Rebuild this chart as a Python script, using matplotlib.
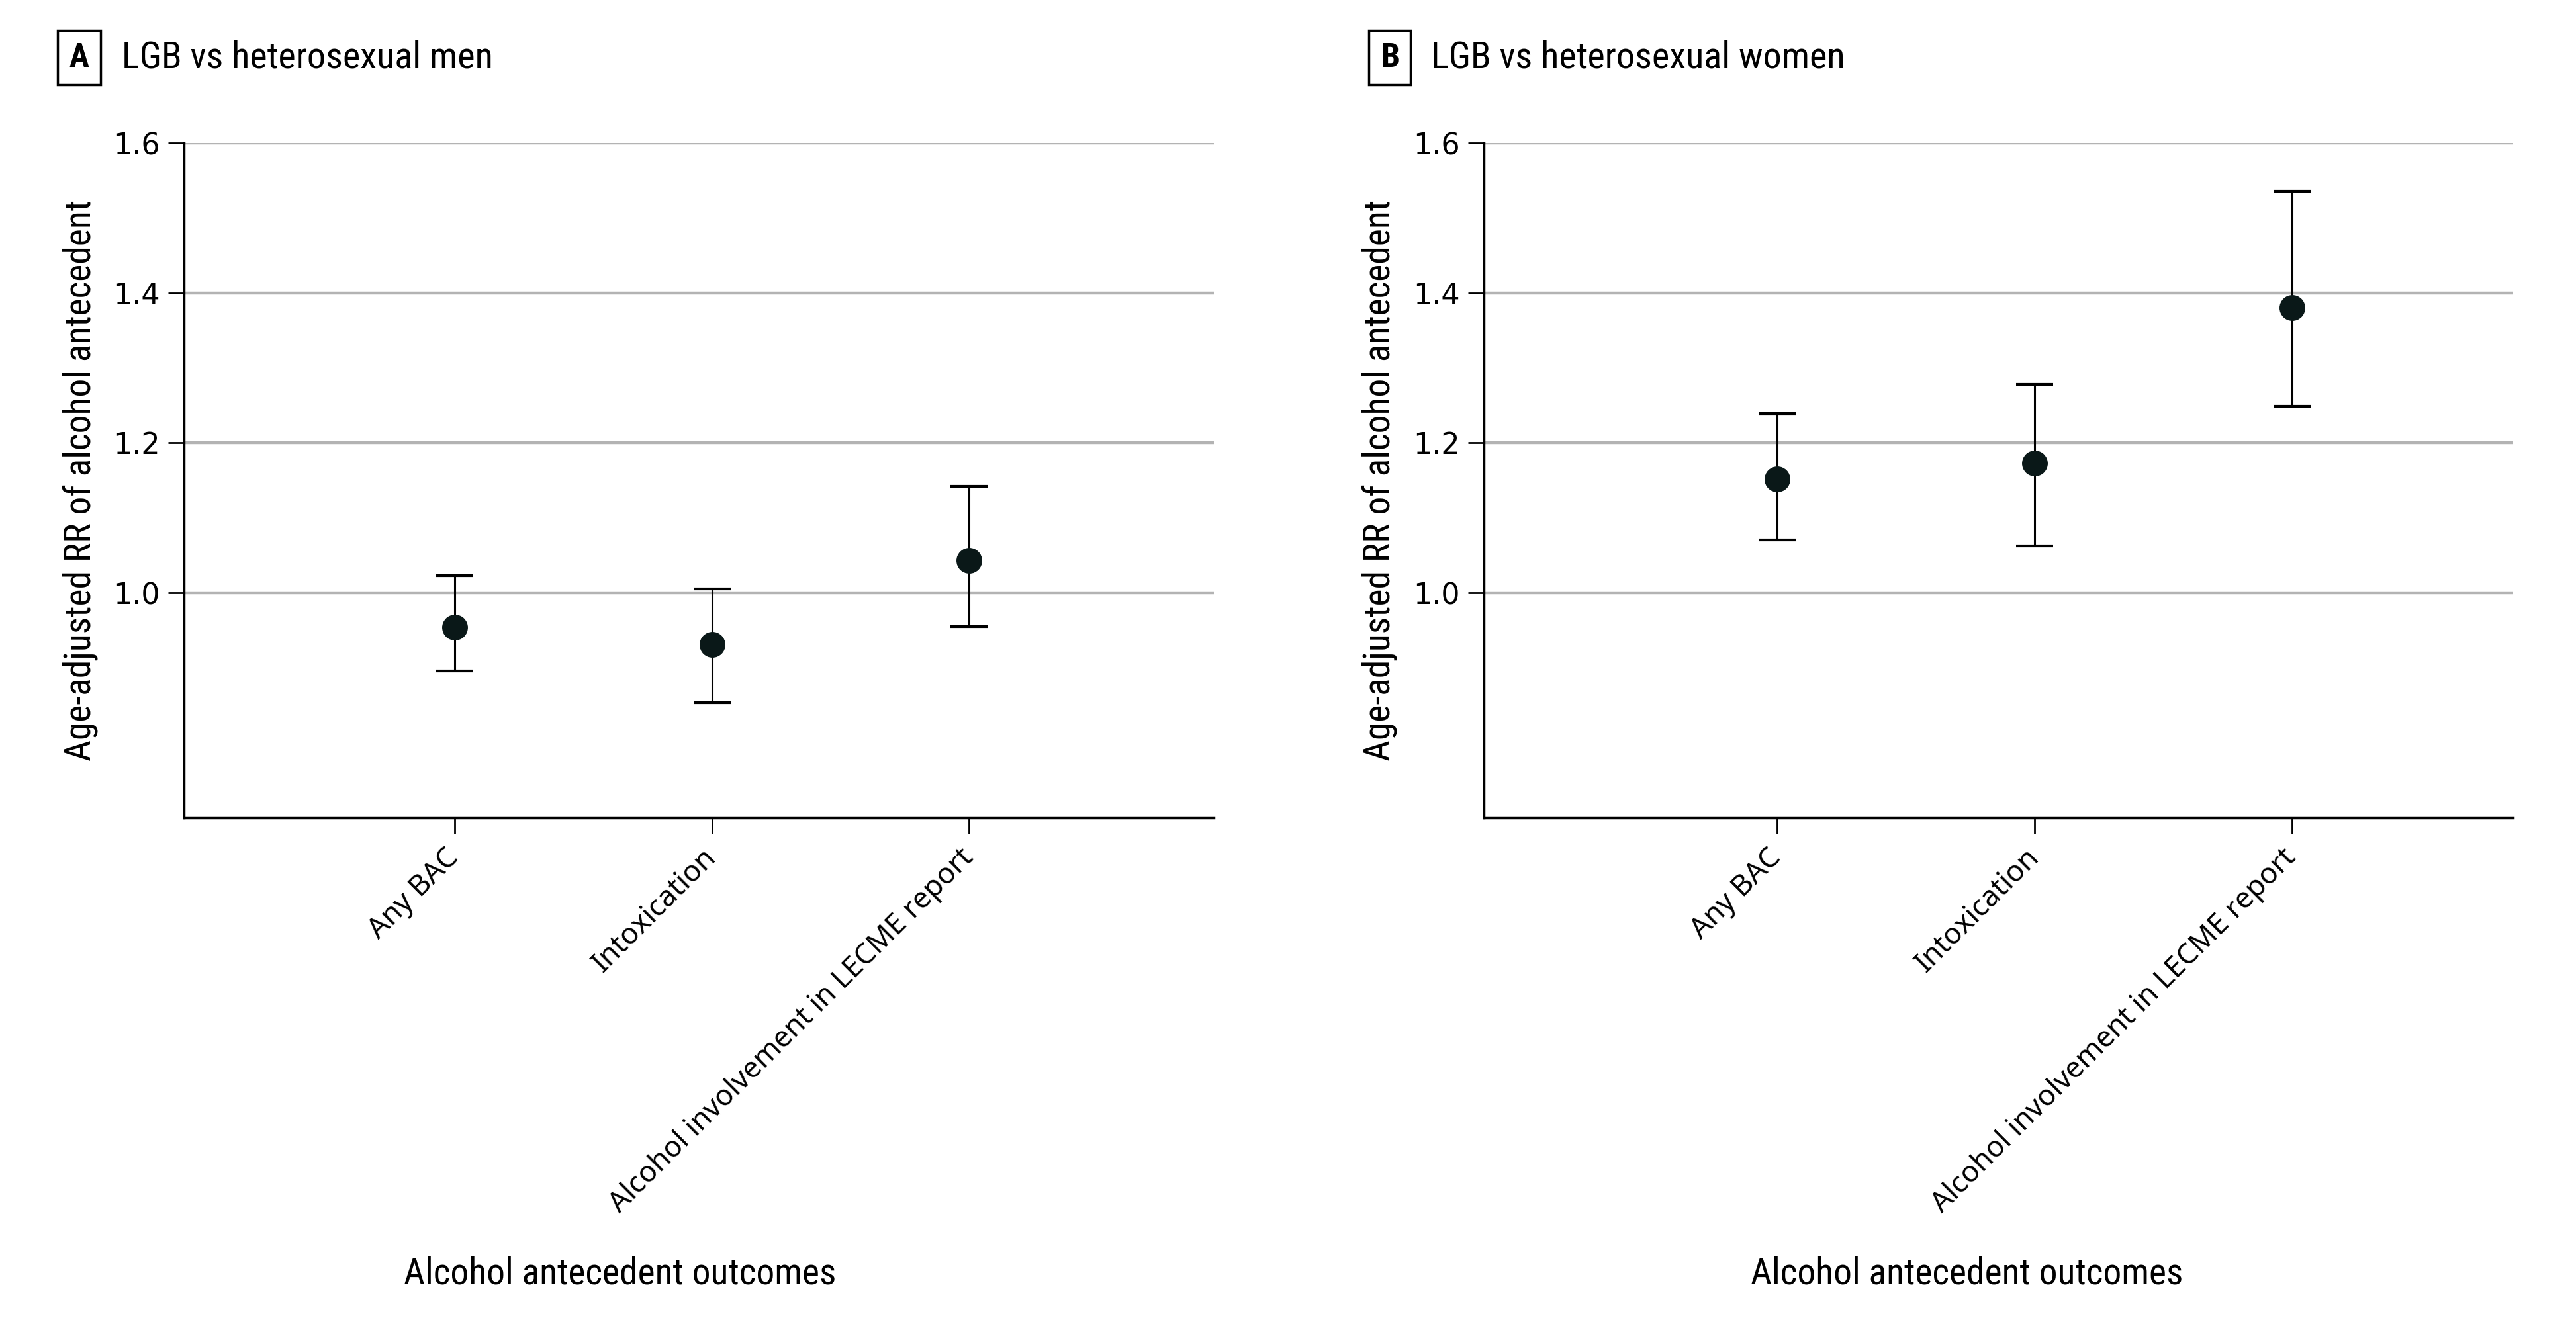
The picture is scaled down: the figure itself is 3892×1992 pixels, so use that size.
import numpy as np
import matplotlib
matplotlib.use("Agg")
import matplotlib.pyplot as plt
from matplotlib import font_manager

# ── Data ──────────────────────────────────────────────────────────────
outcomes = ["Any BAC", "Intoxication", "Alcohol involvement in LECME report"]

men_rr    = [0.954, 0.931, 1.043]
men_lower = [0.896, 0.854, 0.955]
men_upper = [1.023, 1.005, 1.142]

women_rr    = [1.152, 1.173, 1.380]
women_lower = [1.071, 1.063, 1.249]
women_upper = [1.239, 1.278, 1.536]

panels = [
    ("A", "LGB vs heterosexual men",   men_rr,   men_lower,   men_upper),
    ("B", "LGB vs heterosexual women", women_rr, women_lower, women_upper),
]

yticks = [1.0, 1.2, 1.4, 1.6]

# pick the narrowest installed family for the condensed labels
names = {f.name for f in font_manager.fontManager.ttflist}
narrow = [n for n in ["Liberation Sans Narrow", "DejaVu Sans Condensed",
                      "Roboto Condensed", "Open Sans Condensed", "Lato"]
          if n in names][:1] + ["DejaVu Sans"]

# ── Figure ────────────────────────────────────────────────────────────
fig = plt.figure(figsize=(38.92, 19.92), dpi=100)

axes_rects = [[0.0715, 0.3795, 0.3997, 0.512],
              [0.576, 0.3795, 0.3997, 0.512]]
xlims      = [(-0.05, 3.95), (-0.14, 3.86)]
label_x    = [(0.0306, 0.0472), (0.5395, 0.5555)]
xlabel_pos = [0.423, 0.469]

x = np.arange(1, len(outcomes) + 1)

for (tag, title, rr, lo, hi), rect, xlim, (bx, tx), xl in zip(
        panels, axes_rects, xlims, label_x, xlabel_pos):
    ax = fig.add_axes(rect)
    rr = np.array(rr)
    yerr = [rr - np.array(lo), np.array(hi) - rr]
    ax.errorbar(x, rr, yerr=yerr, fmt="o", color="#0a1818",
                markersize=27, ecolor="black", elinewidth=2.2,
                capsize=20, capthick=3, zorder=3)

    ax.set_xlim(*xlim)
    ax.set_ylim(0.7, 1.6)
    ax.set_yticks(yticks)
    ax.set_yticklabels([f"{t:.1f}" for t in yticks],
                       fontfamily="DejaVu Sans", fontsize=32)
    ax.set_xticks(x)
    ax.set_xticklabels(outcomes, rotation=45, ha="right", va="center",
                       rotation_mode="anchor", fontfamily="Noto Sans",
                       fontsize=31.5)
    ax.tick_params(axis="x", pad=22)
    ax.tick_params(axis="y", pad=9)
    ax.tick_params(axis="both", direction="out", length=17, width=2)
    ax.yaxis.grid(True, color="#b3b3b3", linewidth=3.2)
    ax.set_axisbelow(True)
    for s in ["top", "right"]:
        ax.spines[s].set_visible(False)
    for s in ["left", "bottom"]:
        ax.spines[s].set_linewidth(2.5)

    ax.set_ylabel("Age-adjusted RR of alcohol antecedent",
                  family=narrow, fontsize=40)
    ax.yaxis.set_label_coords(-0.084, 0.5)
    ax.set_xlabel("Alcohol antecedent outcomes", family=narrow, fontsize=40)
    ax.xaxis.set_label_coords(xl, -0.65)

    fig.text(bx, 0.9563, tag, ha="center", va="center", fontsize=36,
             fontweight="bold", family=narrow,
             bbox=dict(boxstyle="square,pad=0.35", fc="white", ec="black",
                       lw=2.5))
    fig.text(tx, 0.9563, title, ha="left", va="center", fontsize=40.5,
             family=narrow)

fig.savefig("out.png", dpi=100)
